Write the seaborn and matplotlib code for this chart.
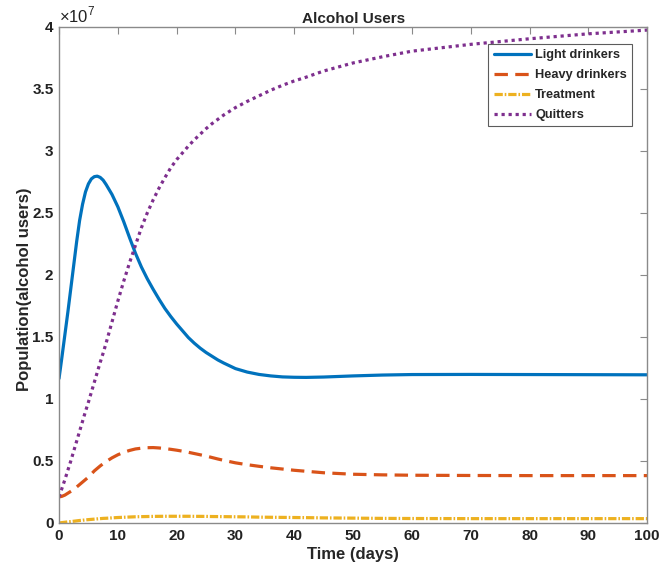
import matplotlib
matplotlib.use("Agg")
import matplotlib.pyplot as plt
import seaborn as sns
import pandas as pd
from matplotlib.ticker import FuncFormatter

# ---- data (populations in units of 1e7) ----
t = [0, 0.5, 1, 1.5, 2, 2.5, 3, 3.5, 4, 4.5, 5, 5.5, 6, 6.5, 7, 7.5, 8,
     9, 10, 11, 12, 13, 14, 15, 16, 17, 18, 19, 20, 21, 22, 23, 24, 25, 26, 27, 28,
     30, 32, 34, 36, 38, 40, 42, 45, 50, 55, 60, 70, 80, 90, 100]
light = [1.165, 1.34, 1.52, 1.70, 1.89, 2.08, 2.27, 2.44, 2.57, 2.67, 2.735, 2.775,
         2.793, 2.797, 2.787, 2.765, 2.73,
         2.65, 2.55, 2.43, 2.30, 2.175, 2.065, 1.97, 1.885, 1.805, 1.73, 1.665, 1.605,
         1.55, 1.495, 1.45, 1.41, 1.375, 1.345, 1.315, 1.29,
         1.245, 1.217, 1.198, 1.186, 1.178, 1.175, 1.174, 1.177, 1.186, 1.193, 1.197,
         1.198, 1.197, 1.196, 1.195]
heavy = [0.21, 0.215, 0.225, 0.24, 0.255, 0.27, 0.29, 0.31, 0.33, 0.35, 0.37, 0.395,
         0.42, 0.44, 0.46, 0.478, 0.495,
         0.525, 0.55, 0.57, 0.585, 0.597, 0.603, 0.607, 0.608, 0.605, 0.600, 0.594,
         0.587, 0.579, 0.570, 0.560, 0.550, 0.540, 0.528, 0.516, 0.505,
         0.485, 0.470, 0.457, 0.445, 0.435, 0.425, 0.417, 0.405, 0.393, 0.388, 0.385,
         0.383, 0.382, 0.382, 0.382]
treatment = [0.0, 0.003, 0.006, 0.009, 0.011, 0.014, 0.017, 0.020, 0.022, 0.025,
             0.027, 0.029, 0.031, 0.033, 0.035, 0.037, 0.038,
             0.041, 0.044, 0.046, 0.048, 0.050, 0.051, 0.052, 0.053, 0.0535, 0.054,
             0.054, 0.054, 0.054, 0.054, 0.0535, 0.0533, 0.053, 0.052, 0.0515, 0.051,
             0.050, 0.049, 0.047, 0.046, 0.045, 0.044, 0.043, 0.041, 0.039, 0.037,
             0.036, 0.035, 0.035, 0.035, 0.035]
quitters = [0.21, 0.28, 0.35, 0.425, 0.50, 0.58, 0.66, 0.74, 0.82, 0.90, 0.975, 1.055,
            1.135, 1.215, 1.295, 1.37, 1.45,
            1.62, 1.79, 1.95, 2.10, 2.24, 2.38, 2.50, 2.605, 2.70, 2.785, 2.865, 2.93,
            2.985, 3.04, 3.09, 3.135, 3.18, 3.22, 3.255, 3.29,
            3.35, 3.40, 3.445, 3.49, 3.53, 3.565, 3.595, 3.645, 3.71, 3.76, 3.805,
            3.86, 3.905, 3.945, 3.975]
scale = 1e7
series_names = ["Light drinkers", "Heavy drinkers", "Treatment", "Quitters"]
x_ticks = [0, 10, 20, 30, 40, 50, 60, 70, 80, 90, 100]
y_ticks = [0, 0.5, 1, 1.5, 2, 2.5, 3, 3.5, 4]

sns.set_style("white")
plt.rcParams["font.family"] = ["Liberation Sans", "DejaVu Sans"]
plt.rcParams["mathtext.fontset"] = "custom"
plt.rcParams["mathtext.rm"] = "Liberation Sans"

fig = plt.figure(figsize=(6.61, 5.78), dpi=100)
ax = fig.add_axes([0.0893, 0.0952, 0.8897, 0.8581])

colors = ["#0072BD", "#D95319", "#EDB120", "#7E2F8E"]
styles = ["-", (0, (4.2, 2.3)), (0, (2.6, 0.6, 0.5, 0.6)), (0, (1.0, 1.2))]
data = [light, heavy, treatment, quitters]

for name, vals, c, ls in zip(series_names, data, colors, styles):
    df = pd.DataFrame({"t": t, "v": [v * scale for v in vals]})
    sns.lineplot(data=df, x="t", y="v", ax=ax, color=c, linestyle=ls,
                 linewidth=2.3, label=name, sort=False)

ax.set_xlim(0, 100)
ax.set_ylim(0, 4e7)
ax.set_xticks(x_ticks)
ax.set_yticks([v * scale for v in y_ticks])
ax.yaxis.set_major_formatter(FuncFormatter(lambda v, p: f"{v / scale:g}"))
ax.xaxis.set_major_formatter(FuncFormatter(lambda v, p: f"{v:g}"))

for s in ax.spines.values():
    s.set_color("#8a8a8a")
    s.set_linewidth(1.0)
ax.tick_params(axis="both", which="major", direction="in", length=5, width=0.8,
               color="#8a8a8a", labelsize=11, top=True, right=True,
               labelcolor="#222222", pad=4)
for lab in ax.get_xticklabels() + ax.get_yticklabels():
    lab.set_fontweight("bold")

ax.text(0.0, 1.004, r"$\times10^{7}$", transform=ax.transAxes, ha="left",
        va="bottom", fontsize=12, color="#222222")

ax.set_title("Alcohol Users", fontsize=11, fontweight="bold", pad=3)
ax.set_xlabel("Time (days)", fontsize=12, fontweight="bold", labelpad=3)
ax.set_ylabel("Population(alcohol users)", fontsize=12, fontweight="bold")
ax.yaxis.set_label_coords(-0.046, 0.472)

leg = ax.legend(loc="upper right", bbox_to_anchor=(0.975, 0.966), fontsize=9.2,
                frameon=True, fancybox=False, handlelength=2.9, handletextpad=0.35,
                borderpad=0.42, labelspacing=0.62, borderaxespad=0)
leg.get_frame().set_edgecolor("#333333")
leg.get_frame().set_linewidth(0.8)
for txt in leg.get_texts():
    txt.set_fontweight("bold")

fig.savefig("out.png", dpi=100)
